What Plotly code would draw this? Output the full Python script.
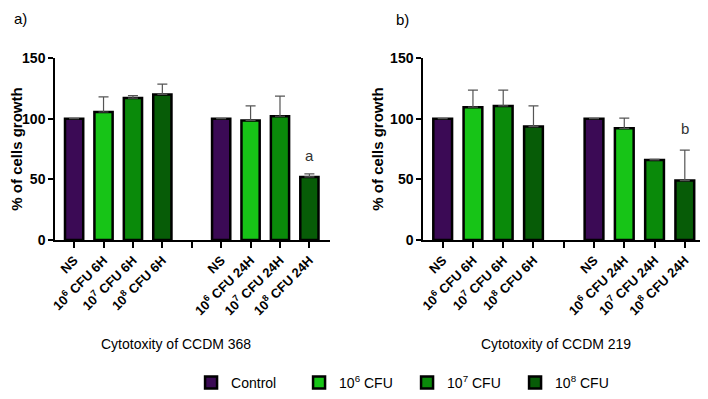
import plotly.graph_objects as go

# ---- data ----
positions = [0, 1, 2, 3, 4, 5, 6, 7, 8]
tick_labels = ["NS", "10<sup>6</sup> CFU 6H", "10<sup>7</sup> CFU 6H", "10<sup>8</sup> CFU 6H", "",
               "NS", "10<sup>6</sup> CFU 24H", "10<sup>7</sup> CFU 24H", "10<sup>8</sup> CFU 24H"]
groups = [0, 1, 2, 3, None, 0, 1, 2, 3]
series_names = ["Control", "10<sup>6</sup> CFU", "10<sup>7</sup> CFU", "10<sup>8</sup> CFU"]

a_mean = [100, 105.5, 117, 120, None, 100, 98.5, 102, 52]
a_err = [0, 12.5, 2, 8.5, None, 0, 12, 16.5, 2.5]
b_mean = [100, 109.5, 110.5, 93.5, None, 100, 92, 66, 49]
b_err = [0, 14, 13, 17, None, 0, 8.5, 0.5, 25]

colors = ["#3b0a55", "#17c417", "#0a8a0a", "#075c07"]
FONT = "Liberation Sans, Arial, sans-serif"

fig = go.Figure()

def add_panel(mean, err, xa, ya, show):
    for g in range(4):
        xs = [p for p, gg in zip(positions, groups) if gg == g]
        ys = [m for m, gg in zip(mean, groups) if gg == g]
        es = [e for e, gg in zip(err, groups) if gg == g]
        fig.add_trace(go.Bar(
            x=xs, y=ys, xaxis=xa, yaxis=ya, name=series_names[g],
            marker=dict(color=colors[g], line=dict(color="black", width=2.5)),
            width=0.62, showlegend=show,
            error_y=dict(type="data", symmetric=False, array=es,
                         arrayminus=[0] * len(es), color="#555555",
                         thickness=1.2, width=5),
        ))

add_panel(a_mean, a_err, "x", "y", True)
add_panel(b_mean, b_err, "x2", "y2", False)

xcommon = dict(range=[-0.65, 8.7], tickmode="array", tickvals=positions,
               ticktext=["<b>%s</b>" % t if t else "" for t in tick_labels],
               tickangle=-45, showline=True, linecolor="black", linewidth=1.5,
               ticks="outside", ticklen=6, tickwidth=1.5, tickcolor="black",
               showgrid=False, zeroline=False, automargin=False,
               tickfont=dict(family=FONT, size=13, color="black"))
ycommon = dict(range=[0, 150], tickvals=[0, 50, 100, 150], showline=True,
               linecolor="black", linewidth=1.5, ticks="outside", ticklen=5,
               tickwidth=1.5, tickcolor="black", showgrid=False, zeroline=False,
               tickfont=dict(family=FONT, size=14, color="black", weight="bold"),
               title=dict(text="<b>% of cells growth</b>",
                          font=dict(family=FONT, size=15, color="black"), standoff=3),
               automargin=False)

# page body has an 8px margin: figure is drawn 8px right/down of the window origin
OFF = 8
L, T = 55 - OFF, 58 - OFF
W, H = 708 - OFF, 399 - OFF
PW, PH = 651, 183

def px(x):
    return (x - 55) / PW

def py(y):
    return (241 - y) / PH

fig.update_layout(
    width=W, height=H,
    margin=dict(l=L, r=W - L - PW, t=T, b=H - T - PH),
    plot_bgcolor="white", paper_bgcolor="white",
    barmode="overlay",
    xaxis=dict(domain=[0, 0.4224], anchor="y", **xcommon),
    xaxis2=dict(domain=[0.5653, 1.0], anchor="y2", **xcommon),
    yaxis=dict(domain=[0, 1], anchor="x", **ycommon),
    yaxis2=dict(domain=[0, 1], anchor="x2", **ycommon),
    font=dict(family=FONT, color="black"),
    showlegend=True,
    legend=dict(orientation="h", x=0.209, xanchor="left", y=py(383), yanchor="middle",
                entrywidth=63, entrywidthmode="pixels",
                font=dict(family=FONT, size=14, color="black")),
    annotations=[
        dict(text="a", x=8, y=70, xref="x", yref="y", showarrow=False,
             font=dict(family=FONT, size=15, color="#333333")),
        dict(text="b", x=8, y=92, xref="x2", yref="y2", showarrow=False,
             font=dict(family=FONT, size=15, color="#333333")),
        dict(text="Cytotoxity of CCDM 368", x=px(176), y=py(346),
             xref="paper", yref="paper", showarrow=False, xanchor="center", yanchor="middle",
             font=dict(family=FONT, size=14, color="black")),
        dict(text="Cytotoxity of CCDM 219", x=px(556), y=py(346),
             xref="paper", yref="paper", showarrow=False, xanchor="center", yanchor="middle",
             font=dict(family=FONT, size=14, color="black")),
        dict(text="a)", x=px(20), y=py(18), xref="paper", yref="paper",
             xanchor="center", yanchor="middle",
             showarrow=False, font=dict(family=FONT, size=15, color="black")),
        dict(text="b)", x=px(402), y=py(19), xref="paper", yref="paper",
             xanchor="center", yanchor="middle",
             showarrow=False, font=dict(family=FONT, size=15, color="black")),
    ],
)

fig.write_html("out.html")
